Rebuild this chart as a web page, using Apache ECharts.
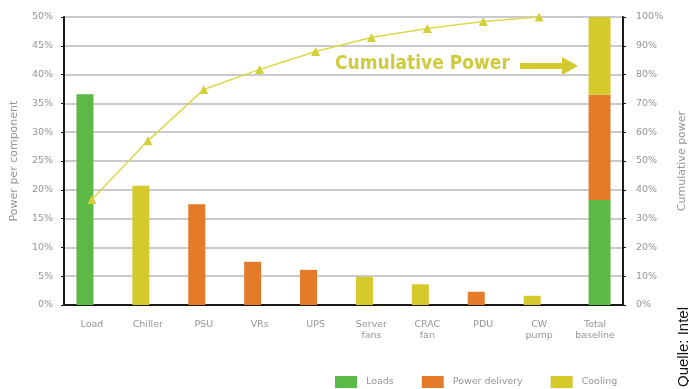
<!DOCTYPE html>
<html>
<head>
<meta charset="utf-8">
<script src="https://cdn.jsdelivr.net/npm/echarts@6/dist/echarts.min.js"></script>
<style>
  html, body { margin: 0; padding: 0; background: #fff; }
  #chart { width: 689px; height: 389px; }
</style>
</head>
<body>
<div id="chart"></div>
<script>
// Power breakdown per component (share of total, %)
const categories = ['Load', 'Chiller', 'PSU', 'VRs', 'UPS', 'Server\nfans', 'CRAC\nfan', 'PDU', 'CW\npump', 'Total\nbaseline'];
const componentShare = [36.6, 20.7, 17.5, 7.5, 6.1, 4.9, 3.6, 2.3, 1.6];
const componentGroup = ['Loads', 'Cooling', 'Power delivery', 'Power delivery', 'Power delivery', 'Cooling', 'Cooling', 'Power delivery', 'Cooling'];
const cumulativeShare = [36.6, 57.0, 74.8, 81.8, 88.0, 92.9, 96.0, 98.4, 100];
// Stacked total baseline (right axis, %)
const totalLoads = 36.5;
const totalPowerDelivery = 36.5;
const totalCooling = 27.0;
const leftTicks = { min: 0, max: 50, interval: 5 };
const rightTicks = { min: 0, max: 100, interval: 10 };

const groupColors = { 'Loads': '#5cb847', 'Power delivery': '#e37b28', 'Cooling': '#d5c92c' };
const lineColor = '#dcd84c';
const labelColor = '#959595';
const fontFamily = "'DejaVu Sans', 'Open Sans', sans-serif";

const lastIndex = categories.length - 1;
function onlyTotal(v) {
  return categories.map((c, i) => (i === lastIndex ? v : null));
}

const chart = echarts.init(document.getElementById('chart'));

const axisLabelStyle = { color: labelColor, fontSize: 9.5, fontFamily: fontFamily };

const barGap = '-47%';

chart.setOption({
  animation: false,
  backgroundColor: '#ffffff',
  grid: { left: 64, right: 66, top: 17, bottom: 84, containLabel: false, outerBoundsMode: 'none' },
  legend: {
    left: 330,
    top: 371,
    itemWidth: 22,
    itemHeight: 12,
    itemGap: 28,
    icon: 'rect',
    textStyle: { color: labelColor, fontSize: 9.5, fontFamily: fontFamily, padding: [0, 0, 0, 4] },
    data: ['Loads', 'Power delivery', 'Cooling']
  },
  xAxis: {
    type: 'category',
    data: categories,
    axisLine: { lineStyle: { color: '#1a1a1a', width: 2 } },
    axisTick: { show: false },
    axisLabel: Object.assign({ margin: 14, lineHeight: 11, interval: 0 }, axisLabelStyle)
  },
  yAxis: [
    {
      type: 'value',
      min: leftTicks.min, max: leftTicks.max, interval: leftTicks.interval,
      name: 'Power per component',
      nameLocation: 'middle',
      nameGap: 44,
      nameTextStyle: { color: labelColor, fontSize: 11, fontFamily: fontFamily },
      axisLine: { show: true, lineStyle: { color: '#1a1a1a', width: 2 } },
      axisTick: { show: true, length: 3, lineStyle: { color: '#1a1a1a' } },
      axisLabel: Object.assign({ margin: 11, formatter: '{value}%' }, axisLabelStyle),
      splitLine: { show: true, lineStyle: { color: '#cacace', width: 2 } }
    },
    {
      type: 'value',
      position: 'right',
      min: rightTicks.min, max: rightTicks.max, interval: rightTicks.interval,
      name: 'Cumulative power',
      nameLocation: 'middle',
      nameGap: 54,
      nameRotate: 90,
      nameTextStyle: { color: labelColor, fontSize: 11, fontFamily: fontFamily },
      axisLine: { show: true, lineStyle: { color: '#1a1a1a', width: 2 } },
      axisTick: { show: true, length: 3, lineStyle: { color: '#1a1a1a' } },
      axisLabel: Object.assign({ margin: 13, formatter: '{value}%' }, axisLabelStyle),
      splitLine: { show: false }
    }
  ],
  series: [
    {
      name: 'Components',
      type: 'bar',
      yAxisIndex: 0,
      barWidth: 17,
      barGap: barGap,
      data: componentShare.map((v, i) => ({ value: v, itemStyle: { color: groupColors[componentGroup[i]] } })).concat([null])
    },
    {
      name: 'Loads', type: 'bar', stack: 'total', yAxisIndex: 1, barWidth: 22, barGap: barGap,
      itemStyle: { color: groupColors['Loads'] },
      data: onlyTotal(totalLoads)
    },
    {
      name: 'Power delivery', type: 'bar', stack: 'total', yAxisIndex: 1, barWidth: 22, barGap: barGap,
      itemStyle: { color: groupColors['Power delivery'] },
      data: onlyTotal(totalPowerDelivery)
    },
    {
      name: 'Cooling', type: 'bar', stack: 'total', yAxisIndex: 1, barWidth: 22, barGap: barGap,
      itemStyle: { color: groupColors['Cooling'] },
      data: onlyTotal(totalCooling)
    },
    {
      name: 'Cumulative', type: 'line', yAxisIndex: 1, z: 5,
      data: cumulativeShare,
      symbol: 'triangle',
      symbolSize: 9,
      itemStyle: { color: '#d2cf3a' },
      lineStyle: { color: lineColor, width: 1.5 }
    }
  ],
  graphic: [
    {
      type: 'text',
      x: 335, y: 64,
      style: {
        text: 'Cumulative Power',
        fill: '#cfcb3c',
        verticalAlign: 'middle',
        font: "bold 19px 'DejaVu Sans Condensed', sans-serif"
      }
    },
    {
      // arrow pointing to the total bar
      type: 'polygon',
      shape: { points: [[520, 63], [562, 63], [562, 57], [578, 66], [562, 75], [562, 69], [520, 69]] },
      style: { fill: '#d4c92e' }
    },
    {
      type: 'text',
      x: 684, y: 347,
      rotation: Math.PI / 2,
      style: {
        text: 'Quelle: Intel',
        fill: '#111',
        align: 'center',
        verticalAlign: 'middle',
        font: "15px 'Liberation Sans', Arial, sans-serif"
      }
    }
  ]
});
</script>
</body>
</html>
